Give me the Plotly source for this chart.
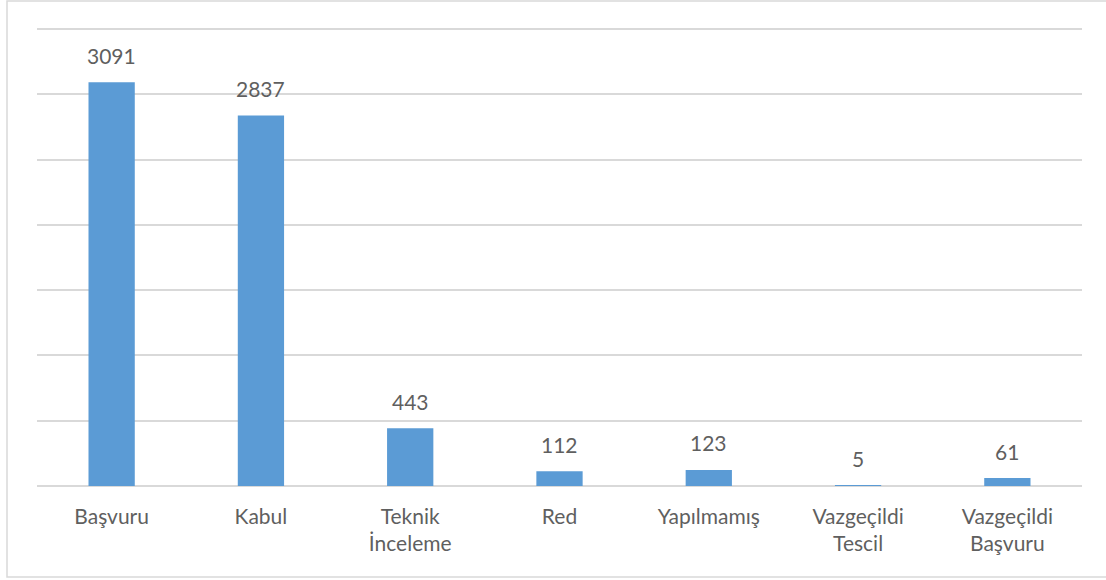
import plotly.graph_objects as go

categories = ["Başvuru", "Kabul", "Teknik<br>İnceleme", "Red", "Yapılmamış", "Vazgeçildi<br>Tescil", "Vazgeçildi<br>Başvuru"]
values = [3091, 2837, 443, 112, 123, 5, 61]
y_ticks = [0, 500, 1000, 1500, 2000, 2500, 3000, 3500]

FONT = "Lato, Carlito, Calibri, sans-serif"
TEXT_COLOR = "#5f5f5f"
GRID = "#d9d9d9"

fig = go.Figure()
fig.add_trace(go.Bar(x=categories, y=values, marker_color="#5b9bd5",
                     marker_line_width=0, hoverinfo="skip"))

for c, v in zip(categories, values):
    fig.add_annotation(x=c, y=v, text=str(v), showarrow=False,
                       yanchor="middle", yshift=27,
                       font=dict(family=FONT, size=21, color=TEXT_COLOR))

L, R, T, B = 37, 24, 25, 94
W, H = 1106, 580
pw, ph = W - L - R, H - T - B
fig.add_shape(type="rect", xref="paper", yref="paper",
              x0=(7 - L) / pw, x1=(W + 2 - L) / pw,
              y0=(H - B - 577) / ph, y1=(H - B - 1) / ph,
              line=dict(color=GRID, width=1.5), fillcolor="rgba(0,0,0,0)", layer="below")

fig.update_layout(
    width=W, height=H,
    margin=dict(l=L, r=R, t=T, b=B),
    paper_bgcolor="white", plot_bgcolor="white",
    bargap=0.69, showlegend=False,
    font=dict(family=FONT, size=21, color=TEXT_COLOR),
    xaxis=dict(showgrid=False, showline=False, zeroline=False,
               ticks="", ticklabelstandoff=16,
               tickfont=dict(family=FONT, size=21, color=TEXT_COLOR)),
    yaxis=dict(range=[0, 3530], tickvals=y_ticks, showticklabels=False,
               showgrid=True, gridcolor=GRID, gridwidth=1.5,
               zeroline=True, zerolinecolor=GRID, zerolinewidth=1.5,
               showline=False, ticks=""),
)

fig.write_html("out.html", config={"displayModeBar": False},
               post_script="document.body.style.margin='0';document.body.style.overflow='hidden';")
